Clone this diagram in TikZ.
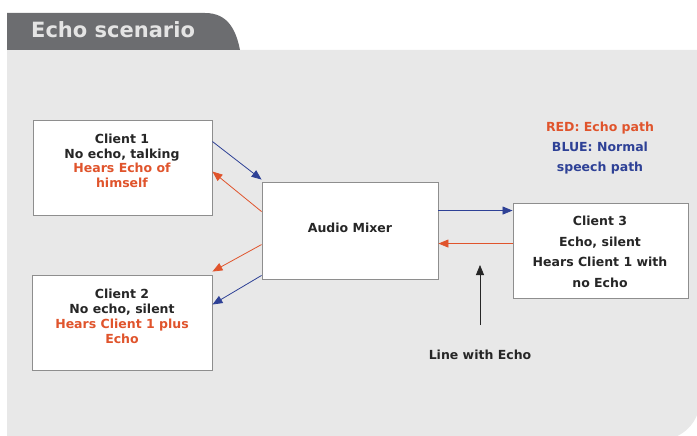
\documentclass[tikz,border=0pt]{standalone}
\usepackage{fontspec}
\setmainfont{DejaVu Sans}
\usetikzlibrary{arrows.meta,calc,shadows}
\definecolor{panelgray}{HTML}{E8E8E8}
\definecolor{tabgray}{HTML}{6C6D70}
\definecolor{titletext}{HTML}{E4E4E4}
\definecolor{echored}{HTML}{E0542C}
\definecolor{speechblue}{HTML}{2E4196}
\definecolor{boxedge}{HTML}{8E8E8E}
\definecolor{darktext}{HTML}{262626}
\begin{document}
\begin{tikzpicture}[x=1pt,y=-1pt,
  box/.style={draw=boxedge, line width=0.9pt, fill=white, inner sep=0pt,
    drop shadow={shadow xshift=0.8pt, shadow yshift=-0.8pt, opacity=0.25}},
  txt/.style={font=\bfseries\fontsize{12.5}{15}\selectfont, align=center, text=darktext, inner sep=0pt},
  bluearrow/.style={draw=speechblue, line width=0.8pt, -{Triangle[length=10pt,width=8pt]}},
  redarrow/.style={draw=echored, line width=0.8pt, -{Triangle[length=10pt,width=8pt]}},
  blackarrow/.style={draw=darktext, line width=0.8pt, -{Triangle[length=10pt,width=8pt]}}]
\useasboundingbox (0,0) rectangle (697,436);
\clip (0,0) rectangle (697,436);
% panel and tab
\fill[panelgray] (7,50) -- (700,50) -- (700,400) .. controls (700,422) and (682,440) .. (660,440) -- (7,440) -- cycle;
\fill[tabgray] (7,50) -- (7,13) -- (205,13) .. controls (228,13) and (236,30) .. (240,50) -- cycle;
\node[font=\bfseries\fontsize{21}{24}\selectfont, text=titletext, anchor=west, inner sep=0pt] (title) at (31,30) {Echo scenario};
% boxes
\node[box, minimum width=179pt, minimum height=95pt] (c1) at (122.5,167.5) {};
\node[box, minimum width=180pt, minimum height=95pt] (c2) at (122,322.5) {};
\node[box, minimum width=176pt, minimum height=97pt] (mix) at (350,230.5) {};
\node[box, minimum width=175pt, minimum height=95pt] (c3) at (600.5,250.5) {};
% texts
\node[txt, font=\bfseries\fontsize{12.5}{14.5}\selectfont] (c1t) at (122,161) {Client 1\\No echo, talking\\\textcolor{echored}{Hears Echo of}\\\textcolor{echored}{himself}};
\node[txt] (c2t) at (122,316) {Client 2\\No echo, silent\\\textcolor{echored}{Hears Client 1 plus}\\\textcolor{echored}{Echo}};
\node[txt] (mixt) at (350,228) {Audio Mixer};
\node[txt, font=\bfseries\fontsize{12.5}{20.5}\selectfont] (c3t) at (600,252) {Client 3\\Echo, silent\\Hears Client 1 with\\no Echo};
\node[txt, font=\bfseries\fontsize{12.5}{20}\selectfont] (legend) at (600,148) {\textcolor{echored}{RED: Echo path}\\\textcolor{speechblue}{BLUE: Normal}\\\textcolor{speechblue}{speech path}};
\node[txt] (lwe) at (480,355) {Line with Echo};
% connectors
\draw[bluearrow] ($(c1.north east)+(0,22)$) -- ($(mix.north west)+(0,-2)$);
\draw[redarrow] ($(mix.north west)+(0,30)$) -- ($(c1.north east)+(0,52)$);
\draw[redarrow] ($(mix.north west)+(0,63)$) -- ($(c2.north east)+(0,-3)$);
\draw[bluearrow] ($(mix.south west)+(0,-4)$) -- ($(c2.north east)+(0,30)$);
\draw[bluearrow] ($(mix.north east)+(0,29)$) -- ($(c3.north west)+(0,8)$);
\draw[redarrow] ($(c3.north west)+(0,41)$) -- ($(mix.north east)+(0,62)$);
\coordinate (lwebase) at (480,325);
\coordinate (lwetip) at (480,265);
\draw[blackarrow] (lwebase) -- (lwetip);
\end{tikzpicture}
\end{document}
